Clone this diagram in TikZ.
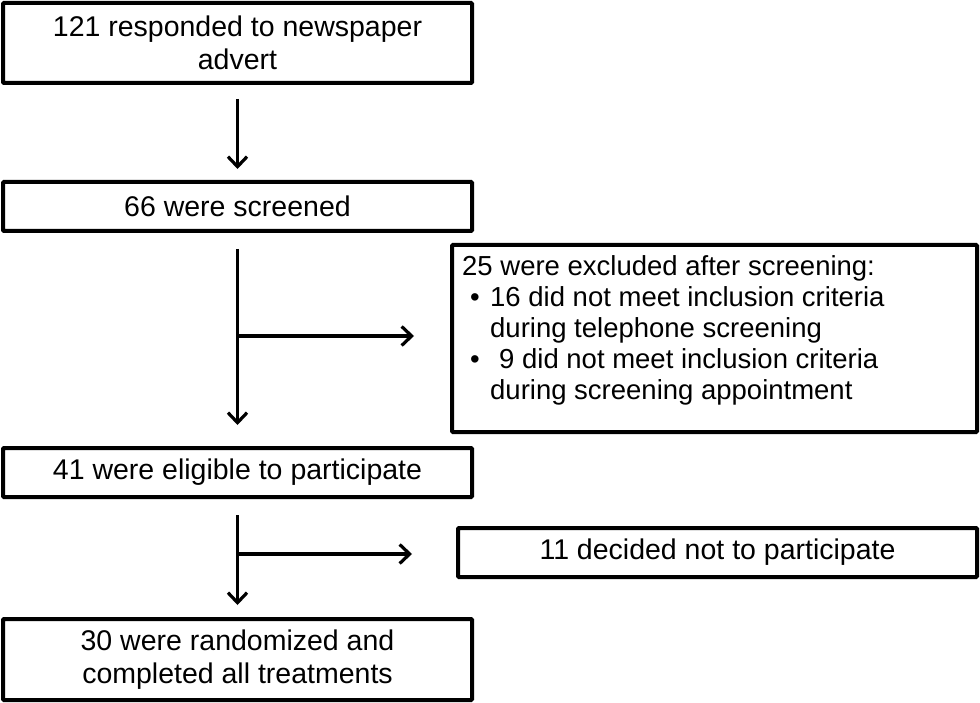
\documentclass[tikz,border=0pt]{standalone}
\usepackage{fontspec}
\setmainfont{Liberation Sans}
\usetikzlibrary{arrows.meta,calc}
\begin{document}
\begin{tikzpicture}[x=1pt,y=-1pt,
  box/.style={draw,line width=4pt,rectangle,rounded corners=1pt,inner sep=0pt,font=\fontsize{28.5}{33}\selectfont,align=center},
  arr/.style={line width=3.2pt,-{Straight Barb[length=10pt,width=19pt,line width=3.2pt]}}
]
\useasboundingbox (0,0) rectangle (980,703);
\node[box,minimum width=469pt,minimum height=80pt] (b1) at (237.5,43) {121 responded to newspaper\\advert};
\node[box,minimum width=469pt,minimum height=49pt] (b2) at (237.5,206.5) {66 were screened};
\node[box,minimum width=525pt,minimum height=187pt] (b3) at (714.5,338.5) {};
\node[anchor=north west,inner sep=0pt,align=left,font=\fontsize{27.5}{31}\selectfont] (b3t) at (462,255) {25 were excluded after screening:\\
\hspace*{8pt}\makebox[20pt][l]{\textbullet}16 did not meet inclusion criteria\\
\hspace*{28pt}during telephone screening\\
\hspace*{8pt}\makebox[20pt][l]{\textbullet}\hspace*{9pt}9 did not meet inclusion criteria\\
\hspace*{28pt}during screening appointment};
\node[box,minimum width=469pt,minimum height=49pt] (b4) at (237.5,472.5) {41 were eligible to participate};
\node[box,minimum width=519pt,minimum height=49pt] (b5) at (717.5,552.5) {11 decided not to participate};
\node[box,minimum width=469pt,minimum height=81pt] (b6) at (237.5,659.5) {30 were randomized and\\completed all treatments};
\draw[arr,shorten <=14pt,shorten >=11pt] (b1.south) -- (b2.north);
\draw[arr,shorten <=16pt,shorten >=21pt] (b2.south) -- (b4.north);
\coordinate (j1) at (237.5,336);
\draw[arr,shorten >=36pt] (j1) -- (j1 -| b3.west);
\draw[arr,shorten <=16pt,shorten >=12pt] (b4.south) -- (b6.north);
\coordinate (j2) at (237.5,554);
\draw[arr,shorten >=44pt] (j2) -- (j2 -| b5.west);
\end{tikzpicture}
\end{document}
